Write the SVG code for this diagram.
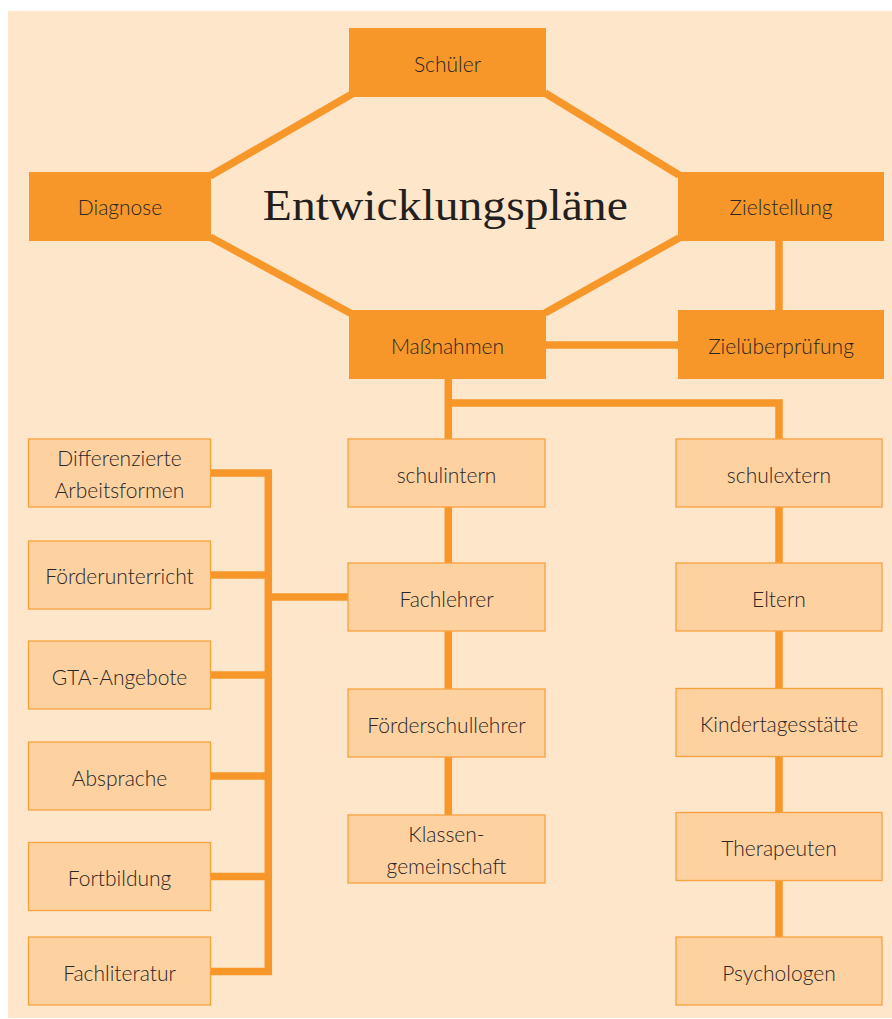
<svg xmlns="http://www.w3.org/2000/svg" width="892" height="1019" viewBox="0 0 892 1019">
<style>
.dark{fill:#F7972A;stroke:none}
.light{fill:#FDD1A0;stroke:#F9A03F;stroke-width:1.3}
.t{font-family:Lato,"Open Sans",sans-serif;font-size:21px;font-weight:300;fill:#2b2626;text-anchor:middle}
.title{font-family:"Liberation Serif","DejaVu Serif",serif;font-size:45px;fill:#231f20;text-anchor:middle}
.c{fill:none;stroke:#F7972A;stroke-width:7.5;stroke-linejoin:miter}
</style>
<rect x="8" y="11" width="884" height="1007" fill="#FEE6CB"/>
<g id="connectors">
<path class="c" d="M210 176 L352 94"/>
<path class="c" d="M545 93 L679 175"/>
<path class="c" d="M679 238 L545 313"/>
<path class="c" d="M352 314 L210 237"/>
<path class="c" d="M779 240 V311"/>
<path class="c" d="M545 345 H679"/>
<path class="c" d="M448.3 378 V815"/>
<path class="c" d="M448.3 403 H779 V937"/>
<path class="c" d="M210 473 H268.3 V971.5 H210"/>
<path class="c" d="M210 575 H268.3"/>
<path class="c" d="M210 675 H268.3"/>
<path class="c" d="M210 776 H268.3"/>
<path class="c" d="M210 876.5 H268.3"/>
<path class="c" d="M268.3 597 H348"/>
</g>
<g id="title"><text class="title" x="445.3" y="220" textLength="365" lengthAdjust="spacingAndGlyphs">Entwicklungspläne</text></g>
<g id="schueler"><rect class="dark" x="349" y="28" width="197" height="69"/><text class="t" x="447.5" y="71.5">Schüler</text></g>
<g id="diagnose"><rect class="dark" x="29" y="172" width="182" height="69"/><text class="t" x="120" y="215">Diagnose</text></g>
<g id="zielstellung"><rect class="dark" x="678" y="172" width="206" height="69"/><text class="t" x="781" y="215">Zielstellung</text></g>
<g id="massnahmen"><rect class="dark" x="349" y="310" width="197" height="69"/><text class="t" x="447.5" y="353.5">Maßnahmen</text></g>
<g id="zielueberpruefung"><rect class="dark" x="678" y="310" width="206" height="69"/><text class="t" x="781" y="353.5">Zielüberprüfung</text></g>
<g id="differenzierte"><rect class="light" x="28.5" y="439" width="182" height="68"/><text class="t" x="119.5" y="466">Differenzierte</text><text class="t" x="119.5" y="498">Arbeitsformen</text></g>
<g id="foerderunterricht"><rect class="light" x="28.5" y="541" width="182" height="68"/><text class="t" x="119.5" y="584">Förderunterricht</text></g>
<g id="gta"><rect class="light" x="28.5" y="641" width="182" height="68"/><text class="t" x="119.5" y="684.5">GTA-Angebote</text></g>
<g id="absprache"><rect class="light" x="28.5" y="742" width="182" height="68"/><text class="t" x="119.5" y="785.5">Absprache</text></g>
<g id="fortbildung"><rect class="light" x="28.5" y="842.5" width="182" height="68"/><text class="t" x="119.5" y="886">Fortbildung</text></g>
<g id="fachliteratur"><rect class="light" x="28.5" y="937" width="182" height="68"/><text class="t" x="119.5" y="980.5">Fachliteratur</text></g>
<g id="schulintern"><rect class="light" x="348" y="439" width="197" height="68"/><text class="t" x="446.5" y="482.5">schulintern</text></g>
<g id="fachlehrer"><rect class="light" x="348" y="563" width="197" height="68"/><text class="t" x="446.5" y="606.5">Fachlehrer</text></g>
<g id="foerderschullehrer"><rect class="light" x="348" y="689" width="197" height="68"/><text class="t" x="446.5" y="732.5">Förderschullehrer</text></g>
<g id="klassengemeinschaft"><rect class="light" x="348" y="815" width="197" height="68"/><text class="t" x="446.5" y="842">Klassen-</text><text class="t" x="446.5" y="873.5">gemeinschaft</text></g>
<g id="schulextern"><rect class="light" x="676" y="439" width="206" height="68"/><text class="t" x="779" y="482.5">schulextern</text></g>
<g id="eltern"><rect class="light" x="676" y="563" width="206" height="68"/><text class="t" x="779" y="606.5">Eltern</text></g>
<g id="kindertagesstaette"><rect class="light" x="676" y="688.5" width="206" height="68"/><text class="t" x="779" y="731.5">Kindertagesstätte</text></g>
<g id="therapeuten"><rect class="light" x="676" y="812.5" width="206" height="68"/><text class="t" x="779" y="856">Therapeuten</text></g>
<g id="psychologen"><rect class="light" x="676" y="937" width="206" height="68"/><text class="t" x="779" y="980.5">Psychologen</text></g>
</svg>
